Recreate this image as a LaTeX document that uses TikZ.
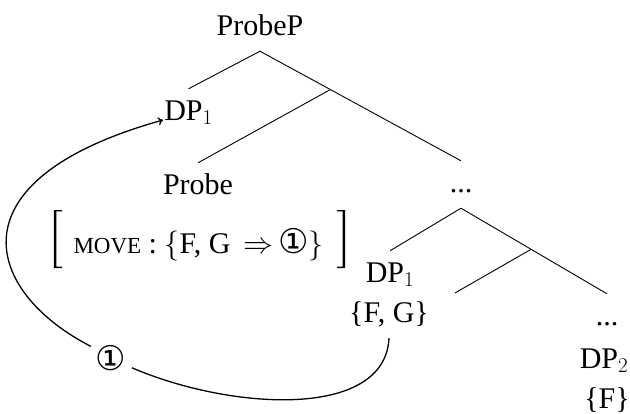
\RequirePackage{fix-cm}
\documentclass[tikz,border=0pt]{standalone}
\usepackage[no-math]{fontspec}
\setmainfont{Liberation Serif}
\newfontfamily\circfont{DejaVu Sans}
\usetikzlibrary{calc,arrows.meta}
\newcommand{\cnum}{{\circfont\fontsize{34}{36}\selectfont ①}}
\begin{document}
\begin{tikzpicture}[x=1pt,y=-1pt,
  tn/.style={font=\fontsize{30}{36}\selectfont, text height=21pt, text depth=6pt,
             inner xsep=1pt, inner ysep=10pt, anchor=base},
  branch/.style={line width=0.9pt},
  curve/.style={line width=1.3pt},
  brk/.style={fill=black},
]
\useasboundingbox (0,0) rectangle (630,413);

% upper tree
\node[tn] (probeP) at (260,35) {ProbeP};
\node[tn] (dp1a) at (188.5,120) {DP$_1$};
\node[tn] (probe) at (198,194) {Probe};
\node[tn] (dots1) at (461,192) {...};
\coordinate (j1) at ($(probeP.south)!0.35!(dots1.north)$);
\draw[branch] (probeP.south) -- (dp1a.north);
\draw[branch] (probeP.south) -- (dots1.north);
\draw[branch] (j1) -- (probe.north);

% feature row
\node[tn] (feat) at (198.5,253) {{\fontsize{23}{26}\selectfont MOVE} : $\{$F, G\ \,$\Rightarrow$\,\cnum$\}$};
\fill[brk] (53.8,210) -- (62,210) -- (62,211.3) -- (56.3,211.3) -- (56.3,266.7)
  -- (62,266.7) -- (62,268) -- (53.8,268) -- cycle;
\fill[brk] (345,210) -- (337,210) -- (337,211.3) -- (342.5,211.3) -- (342.5,266.7)
  -- (337,266.7) -- (337,268) -- (345,268) -- cycle;

% lower tree
\node[tn] (dp1b) at (390,282) {DP$_1$};
\node[tn] (fgb) at (389,322) {\{F, G\}};
\node[tn] (dots2) at (607,325) {...};
\node[tn] (dp2) at (604,368) {DP$_2$};
\node[tn] (fF) at (607,408) {\{F\}};
\coordinate (j2) at ($(dots1.south)!0.48!(dots2.north)$);
\coordinate (e2) at (455,293);
\draw[branch] (dots1.south) -- (dp1b.north);
\draw[branch] (dots1.south) -- (dots2.north);
\draw[branch] (j2) -- (e2);

% movement curve
\node[circle, minimum size=46pt, inner sep=0pt] (circ) at (111,358) {\cnum};
\draw[curve] (fgb.south) .. controls (385,420) and (230,410) .. (circ.-25);
\draw[curve,-{To[length=5pt,width=8pt]}] (circ.150) .. controls (-15,292) and (-52,180) .. (dp1a.base west);
\end{tikzpicture}
\end{document}
